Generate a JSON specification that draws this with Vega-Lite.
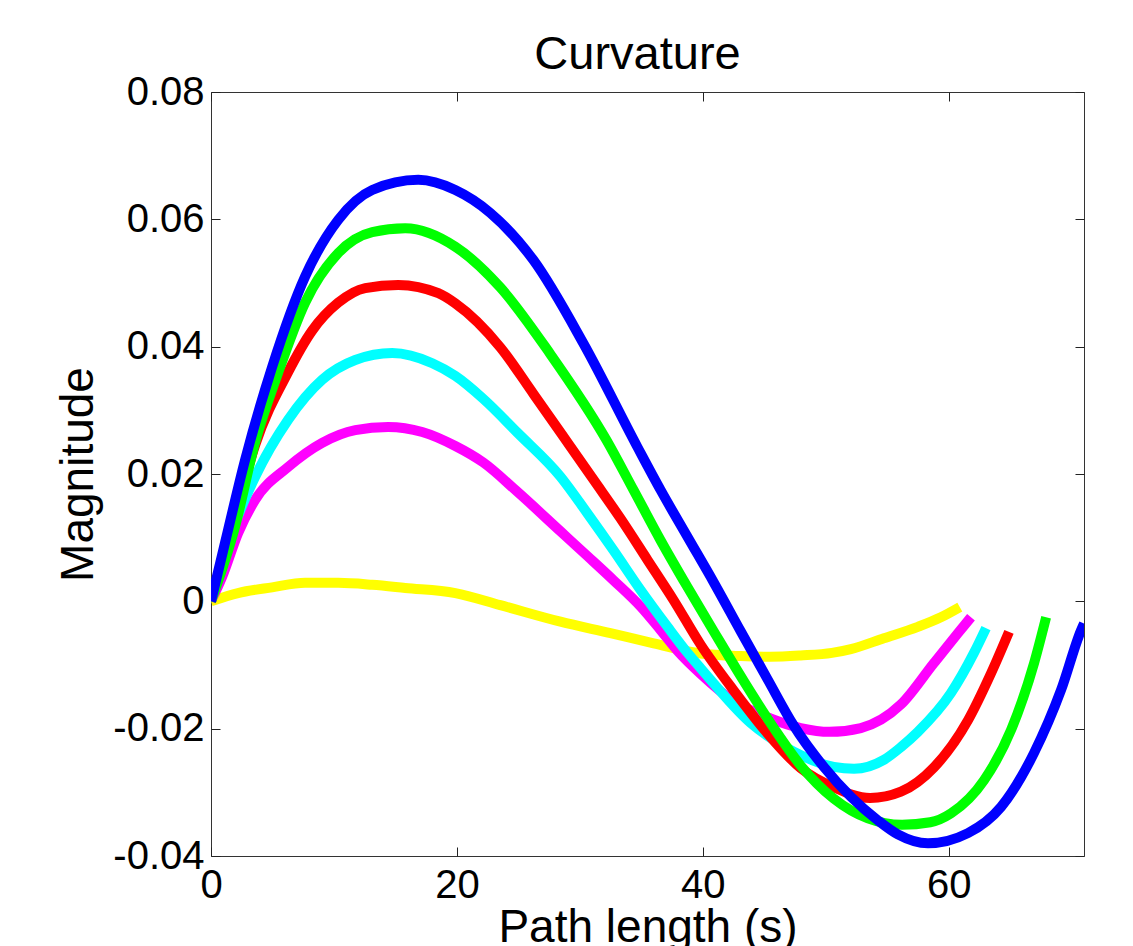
{
  "$schema": "https://vega.github.io/schema/vega-lite/v6.json",
  "width": 873,
  "height": 764,
  "autosize": {"type": "none"},
  "padding": {"left": 211, "top": 92, "right": 49, "bottom": 90},
  "background": "white",
  "title": {"text": "Curvature", "fontSize": 47, "fontWeight": "normal", "font": "Liberation Sans", "color": "black", "baseline": "alphabetic", "offset": -44, "anchor": "middle", "dx": -10},
  "data": {"values": [
    {"s": "s1", "x": 0, "y": 0}, {"s": "s1", "x": 2.2, "y": 0.0013}, {"s": "s1", "x": 4.97, "y": 0.0022}, {"s": "s1", "x": 7.65, "y": 0.0029}, {"s": "s1", "x": 10.34, "y": 0.0029}, {"s": "s1", "x": 13.11, "y": 0.0026}, {"s": "s1", "x": 15.8, "y": 0.0021}, {"s": "s1", "x": 19.87, "y": 0.0013}, {"s": "s1", "x": 23.53, "y": -0.0006}, {"s": "s1", "x": 28.42, "y": -0.0032}, {"s": "s1", "x": 32.49, "y": -0.005}, {"s": "s1", "x": 36.0, "y": -0.0066}, {"s": "s1", "x": 39.82, "y": -0.0082}, {"s": "s1", "x": 43.08, "y": -0.0086}, {"s": "s1", "x": 45.5, "y": -0.0087}, {"s": "s1", "x": 47.96, "y": -0.0085}, {"s": "s1", "x": 50.5, "y": -0.0081}, {"s": "s1", "x": 52.04, "y": -0.0075}, {"s": "s1", "x": 54.72, "y": -0.0058}, {"s": "s1", "x": 57.49, "y": -0.004}, {"s": "s1", "x": 59.36, "y": -0.0025}, {"s": "s1", "x": 60.9, "y": -0.0009},
    {"s": "s2", "x": 0, "y": 0}, {"s": "s2", "x": 0.9, "y": 0.0038}, {"s": "s2", "x": 2.2, "y": 0.0107}, {"s": "s2", "x": 3.58, "y": 0.0159}, {"s": "s2", "x": 6.27, "y": 0.0211}, {"s": "s2", "x": 9.04, "y": 0.0249}, {"s": "s2", "x": 11.73, "y": 0.0269}, {"s": "s2", "x": 14.41, "y": 0.0274}, {"s": "s2", "x": 17.18, "y": 0.0266}, {"s": "s2", "x": 19.87, "y": 0.0244}, {"s": "s2", "x": 22.15, "y": 0.0218}, {"s": "s2", "x": 24.92, "y": 0.0172}, {"s": "s2", "x": 28.42, "y": 0.011}, {"s": "s2", "x": 30.62, "y": 0.0071}, {"s": "s2", "x": 32.74, "y": 0.0033}, {"s": "s2", "x": 34.93, "y": -0.0008}, {"s": "s2", "x": 36.56, "y": -0.0045}, {"s": "s2", "x": 37.95, "y": -0.0078}, {"s": "s2", "x": 39.82, "y": -0.0114}, {"s": "s2", "x": 42.51, "y": -0.0157}, {"s": "s2", "x": 45.5, "y": -0.0184}, {"s": "s2", "x": 47.96, "y": -0.0199}, {"s": "s2", "x": 50.3, "y": -0.0205}, {"s": "s2", "x": 52.85, "y": -0.0199}, {"s": "s2", "x": 56.11, "y": -0.0162}, {"s": "s2", "x": 58.79, "y": -0.0097}, {"s": "s2", "x": 60.75, "y": -0.005}, {"s": "s2", "x": 61.81, "y": -0.0025},
    {"s": "s3", "x": 0, "y": 0}, {"s": "s3", "x": 1.38, "y": 0.0092}, {"s": "s3", "x": 3.58, "y": 0.0195}, {"s": "s3", "x": 6.27, "y": 0.0285}, {"s": "s3", "x": 9.04, "y": 0.0348}, {"s": "s3", "x": 11.73, "y": 0.0379}, {"s": "s3", "x": 14.74, "y": 0.039}, {"s": "s3", "x": 18.0, "y": 0.0374}, {"s": "s3", "x": 19.87, "y": 0.0354}, {"s": "s3", "x": 22.15, "y": 0.0318}, {"s": "s3", "x": 24.92, "y": 0.0265}, {"s": "s3", "x": 28.42, "y": 0.0196}, {"s": "s3", "x": 30.62, "y": 0.0138}, {"s": "s3", "x": 32.74, "y": 0.008}, {"s": "s3", "x": 34.93, "y": 0.0018}, {"s": "s3", "x": 37.13, "y": -0.004}, {"s": "s3", "x": 38.76, "y": -0.0081}, {"s": "s3", "x": 39.82, "y": -0.0105}, {"s": "s3", "x": 43.89, "y": -0.0191}, {"s": "s3", "x": 47.39, "y": -0.0236}, {"s": "s3", "x": 50.65, "y": -0.026}, {"s": "s3", "x": 52.3, "y": -0.0263}, {"s": "s3", "x": 54.72, "y": -0.0249}, {"s": "s3", "x": 56.11, "y": -0.0229}, {"s": "s3", "x": 57.49, "y": -0.0205}, {"s": "s3", "x": 60.18, "y": -0.0144}, {"s": "s3", "x": 62.05, "y": -0.0081}, {"s": "s3", "x": 63.03, "y": -0.0042},
    {"s": "s4", "x": 0, "y": 0}, {"s": "s4", "x": 1.71, "y": 0.0117}, {"s": "s4", "x": 3.58, "y": 0.0245}, {"s": "s4", "x": 6.27, "y": 0.036}, {"s": "s4", "x": 8.22, "y": 0.0425}, {"s": "s4", "x": 10.34, "y": 0.0469}, {"s": "s4", "x": 12.54, "y": 0.0492}, {"s": "s4", "x": 15.23, "y": 0.0497}, {"s": "s4", "x": 18.49, "y": 0.0484}, {"s": "s4", "x": 19.87, "y": 0.0468}, {"s": "s4", "x": 23.53, "y": 0.0399}, {"s": "s4", "x": 26.22, "y": 0.0326}, {"s": "s4", "x": 29.23, "y": 0.0243}, {"s": "s4", "x": 31.11, "y": 0.0191}, {"s": "s4", "x": 33.31, "y": 0.013}, {"s": "s4", "x": 35.5, "y": 0.0065}, {"s": "s4", "x": 37.62, "y": 0.0002}, {"s": "s4", "x": 39.82, "y": -0.0068}, {"s": "s4", "x": 42.51, "y": -0.014}, {"s": "s4", "x": 45.28, "y": -0.0208}, {"s": "s4", "x": 47.96, "y": -0.0262}, {"s": "s4", "x": 50.65, "y": -0.0292}, {"s": "s4", "x": 53.6, "y": -0.0309}, {"s": "s4", "x": 56.11, "y": -0.0299}, {"s": "s4", "x": 58.79, "y": -0.0261}, {"s": "s4", "x": 61.56, "y": -0.0187}, {"s": "s4", "x": 63.44, "y": -0.0113}, {"s": "s4", "x": 64.9, "y": -0.0048},
    {"s": "s5", "x": 0, "y": 0}, {"s": "s5", "x": 1.95, "y": 0.0117}, {"s": "s5", "x": 3.58, "y": 0.0249}, {"s": "s5", "x": 5.46, "y": 0.0359}, {"s": "s5", "x": 7.65, "y": 0.0469}, {"s": "s5", "x": 10.34, "y": 0.0547}, {"s": "s5", "x": 13.11, "y": 0.058}, {"s": "s5", "x": 15.8, "y": 0.0586}, {"s": "s5", "x": 19.87, "y": 0.0557}, {"s": "s5", "x": 23.53, "y": 0.0493}, {"s": "s5", "x": 27.61, "y": 0.0388}, {"s": "s5", "x": 32.17, "y": 0.0253}, {"s": "s5", "x": 34.36, "y": 0.0175}, {"s": "s5", "x": 36.56, "y": 0.0096}, {"s": "s5", "x": 38.76, "y": 0.0022}, {"s": "s5", "x": 40.88, "y": -0.0047}, {"s": "s5", "x": 43.32, "y": -0.0125}, {"s": "s5", "x": 45.77, "y": -0.0199}, {"s": "s5", "x": 47.96, "y": -0.0258}, {"s": "s5", "x": 50.65, "y": -0.031}, {"s": "s5", "x": 53.42, "y": -0.0341}, {"s": "s5", "x": 56.2, "y": -0.0351}, {"s": "s5", "x": 58.5, "y": -0.0347}, {"s": "s5", "x": 60.18, "y": -0.0333}, {"s": "s5", "x": 62.87, "y": -0.0281}, {"s": "s5", "x": 65.07, "y": -0.0202}, {"s": "s5", "x": 66.94, "y": -0.0097}, {"s": "s5", "x": 67.92, "y": -0.0025},
    {"s": "s6", "x": 0, "y": 0}, {"s": "s6", "x": 1.14, "y": 0.0092}, {"s": "s6", "x": 2.77, "y": 0.0222}, {"s": "s6", "x": 4.97, "y": 0.0368}, {"s": "s6", "x": 7.65, "y": 0.051}, {"s": "s6", "x": 10.34, "y": 0.0599}, {"s": "s6", "x": 13.11, "y": 0.0646}, {"s": "s6", "x": 16.86, "y": 0.0662}, {"s": "s6", "x": 19.87, "y": 0.0646}, {"s": "s6", "x": 22.72, "y": 0.061}, {"s": "s6", "x": 26.22, "y": 0.0536}, {"s": "s6", "x": 30.29, "y": 0.0405}, {"s": "s6", "x": 34.69, "y": 0.0242}, {"s": "s6", "x": 36.56, "y": 0.0175}, {"s": "s6", "x": 38.76, "y": 0.0101}, {"s": "s6", "x": 40.88, "y": 0.003}, {"s": "s6", "x": 43.08, "y": -0.0047}, {"s": "s6", "x": 45.28, "y": -0.0123}, {"s": "s6", "x": 47.39, "y": -0.0195}, {"s": "s6", "x": 49.84, "y": -0.026}, {"s": "s6", "x": 52.04, "y": -0.0307}, {"s": "s6", "x": 54.23, "y": -0.0344}, {"s": "s6", "x": 55.86, "y": -0.0366}, {"s": "s6", "x": 58.31, "y": -0.038}, {"s": "s6", "x": 61.56, "y": -0.0364}, {"s": "s6", "x": 64.25, "y": -0.0323}, {"s": "s6", "x": 66.94, "y": -0.0238}, {"s": "s6", "x": 69.14, "y": -0.0139}, {"s": "s6", "x": 70.77, "y": -0.0045}, {"s": "s6", "x": 71.0, "y": -0.0035}
  ]},
  "layer": [
    {
      "mark": {"type": "line", "strokeWidth": 10, "strokeCap": "butt", "strokeJoin": "round", "interpolate": "monotone", "clip": true},
      "encoding": {
        "x": {"field": "x", "type": "quantitative", "scale": {"domain": [0, 71], "nice": false, "zero": false},
              "axis": {"orient": "bottom", "values": [0, 20, 40, 60], "title": "Path length (s)", "labelPadding": 18, "titlePadding": 0, "labelFlush": false}},
        "y": {"field": "y", "type": "quantitative", "scale": {"domain": [-0.04, 0.08], "nice": false, "zero": false},
              "axis": {"orient": "left", "values": [-0.04, -0.02, 0, 0.02, 0.04, 0.06, 0.08], "labelExpr": "'' + datum.value", "title": "Magnitude", "labelPadding": 16, "titlePadding": 10, "labelFlush": false}},
        "color": {"field": "s", "type": "nominal", "legend": null,
                  "scale": {"domain": ["s1", "s2", "s3", "s4", "s5", "s6"], "range": ["#FFFF00", "#FF00FF", "#00FFFF", "#FF0000", "#00FF00", "#0000FF"]}}
      }
    },
    {
      "mark": {"type": "line", "opacity": 0},
      "encoding": {
        "x": {"field": "x", "type": "quantitative", "axis": {"orient": "top", "values": [0, 20, 40, 60], "labels": false, "title": null}},
        "y": {"field": "y", "type": "quantitative", "axis": {"orient": "right", "values": [-0.04, -0.02, 0, 0.02, 0.04, 0.06, 0.08], "labels": false, "title": null}},
        "detail": {"field": "s", "type": "nominal"}
      }
    }
  ],
  "resolve": {"axis": {"x": "independent", "y": "independent"}},
  "config": {
    "font": "Liberation Sans",
    "view": {"stroke": "#333333", "strokeWidth": 1},
    "axis": {
      "domain": false, "grid": false,
      "tickSize": -9, "tickColor": "#222222", "tickWidth": 1,
      "labelFont": "Liberation Sans", "labelFontSize": 40, "labelColor": "black",
      "titleFont": "Liberation Sans", "titleFontSize": 46, "titleFontWeight": "normal", "titleColor": "black"
    }
  }
}
